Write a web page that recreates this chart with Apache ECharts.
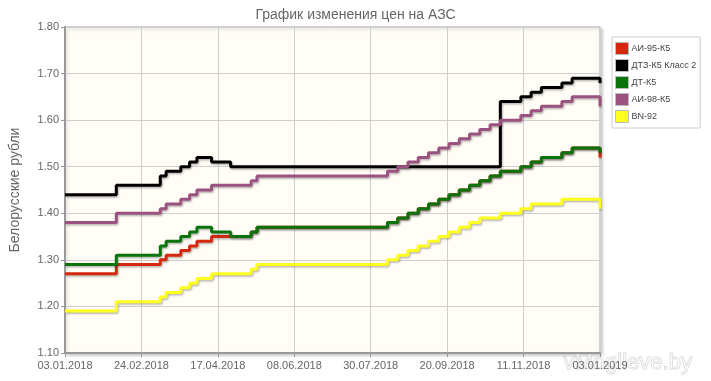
<!DOCTYPE html>
<html>
<head>
<meta charset="utf-8">
<script src="https://cdn.jsdelivr.net/npm/echarts@6/dist/echarts.min.js"></script>
<style>
html,body{margin:0;padding:0;background:#fff;}
#chart{width:711px;height:381px;}
</style>
</head>
<body>
<div id="chart"></div>
<script>
// ---- Data (change dates and prices, BYN) ----
const startDate = '2018-01-03';
const endDate = '2019-01-03';
const tickLabels = ['03.01.2018','24.02.2018','17.04.2018','08.06.2018','30.07.2018','20.09.2018','11.11.2018','03.01.2019'];
const yTicks = [1.10, 1.80, 0.10]; // min, max, step

const seriesNames = ['АИ-95-К5', 'ДТЗ-К5 Класс 2', 'ДТ-К5', 'АИ-98-К5', 'BN-92'];

const weekly = ['2018-08-11','2018-08-18','2018-08-25','2018-09-01','2018-09-08','2018-09-15','2018-09-22','2018-09-29','2018-10-06','2018-10-13','2018-10-20','2018-10-27','2018-11-10','2018-11-17','2018-11-24','2018-12-08','2018-12-15'];

const ai95Dates = ['2018-01-03','2018-02-07','2018-03-09','2018-03-13','2018-03-23','2018-03-29','2018-04-03','2018-04-13','2018-05-10','2018-05-14'].concat(weekly, ['2019-01-03']);
const ai95Values = [1.27,1.29,1.30,1.31,1.32,1.33,1.34,1.35,1.36,1.37,
  1.38,1.39,1.40,1.41,1.42,1.43,1.44,1.45,1.46,1.47,1.48,1.49,1.50,1.51,1.52,1.53,1.54,
  1.52];

const dtzDates = ['2018-01-03','2018-02-07','2018-03-09','2018-03-13','2018-03-23','2018-03-29','2018-04-03','2018-04-13','2018-04-26','2018-10-27','2018-11-10','2018-11-17','2018-11-24','2018-12-08','2018-12-15','2019-01-03'];
const dtzValues = [1.44,1.46,1.48,1.49,1.50,1.51,1.52,1.51,1.50,1.64,1.65,1.66,1.67,1.68,1.69,1.68];

const dtDates = ['2018-01-03','2018-02-07','2018-03-09','2018-03-13','2018-03-23','2018-03-29','2018-04-03','2018-04-13','2018-04-26','2018-05-10','2018-05-14'].concat(weekly, ['2019-01-03']);
const dtValues = [1.29,1.31,1.33,1.34,1.35,1.36,1.37,1.36,1.35,1.36,1.37,
  1.38,1.39,1.40,1.41,1.42,1.43,1.44,1.45,1.46,1.47,1.48,1.49,1.50,1.51,1.52,1.53,1.54,
  1.53];

const ai98Dates = ['2018-01-03','2018-02-07','2018-03-09','2018-03-13','2018-03-23','2018-03-29','2018-04-03','2018-04-13','2018-05-10','2018-05-14'].concat(weekly, ['2019-01-03']);
const ai98Values = [1.38,1.40,1.41,1.42,1.43,1.44,1.45,1.46,1.47,1.48,
  1.49,1.50,1.51,1.52,1.53,1.54,1.55,1.56,1.57,1.58,1.59,1.60,1.61,1.62,1.63,1.64,1.65,
  1.63];

const bn92Dates = ['2018-01-03','2018-02-07','2018-03-09','2018-03-13','2018-03-23','2018-03-29','2018-04-03','2018-04-13','2018-05-10','2018-05-14',
  '2018-08-11','2018-08-18','2018-08-25','2018-09-01','2018-09-08','2018-09-15','2018-09-22','2018-09-29','2018-10-06','2018-10-13','2018-10-27','2018-11-10','2018-11-17','2018-12-08','2019-01-03'];
const bn92Values = [1.19,1.21,1.22,1.23,1.24,1.25,1.26,1.27,1.28,1.29,
  1.30,1.31,1.32,1.33,1.34,1.35,1.36,1.37,1.38,1.39,1.40,1.41,1.42,1.43,
  1.41];

const colors = ['#d6280f', '#000000', '#0b730b', '#9c5281', '#ffff1e'];

// ---- Build ----
const DAY = 86400000;
const t0 = Date.parse(startDate);
const span = (Date.parse(endDate) - t0) / DAY;
const xStep = span / (tickLabels.length - 1);
function toPairs(dates, values) {
  return dates.map((d, i) => [(Date.parse(d) - t0) / DAY, values[i]]);
}
const allData = [
  toPairs(ai95Dates, ai95Values),
  toPairs(dtzDates, dtzValues),
  toPairs(dtDates, dtValues),
  toPairs(ai98Dates, ai98Values),
  toPairs(bn92Dates, bn92Values)
];

const chart = echarts.init(document.getElementById('chart'), null, {renderer: 'canvas'});
const labelFont = 'Liberation Sans, Arial, sans-serif';
chart.setOption({
  animation: false,
  backgroundColor: '#ffffff',
  title: {
    text: 'График изменения цен на АЗС',
    left: 'center',
    top: 3,
    textStyle: {fontSize: 14, fontWeight: 'normal', color: '#666', fontFamily: labelFont}
  },
  legend: {
    orient: 'vertical',
    left: 612,
    top: 37,
    padding: [5, 4, 5, 3],
    itemGap: 4,
    itemWidth: 13,
    itemHeight: 12,
    icon: 'rect',
    backgroundColor: '#ffffff',
    borderColor: '#cccccc',
    borderWidth: 1,
    itemStyle: {borderColor: '#bbbbbb', borderWidth: 1},
    textStyle: {fontSize: 9, color: '#444', fontFamily: labelFont, padding: [0, 0, 0, -2]},
    data: seriesNames
  },
  graphic: [{
    type: 'text',
    left: 563,
    top: 351,
    silent: true,
    style: {
      text: 'vMogileve.by',
      fontSize: 22,
      fontFamily: labelFont,
      fill: 'rgba(255,255,255,0.6)',
      stroke: 'rgba(150,150,150,0.45)',
      lineWidth: 1
    }
  }],
  grid: {
    left: 64, right: 111, top: 27, bottom: 28,
    show: true,
    backgroundColor: '#fffdf5',
    borderColor: '#a8a8a8',
    borderWidth: 1,
    shadowColor: 'rgba(0,0,0,0.22)',
    shadowBlur: 3,
    shadowOffsetX: 2,
    shadowOffsetY: 2
  },
  xAxis: {
    type: 'value',
    min: 0,
    max: span,
    interval: xStep,
    axisLine: {show: true, onZero: false, lineStyle: {color: '#999', width: 2}},
    axisTick: {show: true, length: 4, lineStyle: {color: '#999'}},
    splitLine: {show: true, lineStyle: {color: '#cfcfcf', width: 1}},
    axisLabel: {
      color: '#666', fontSize: 11, fontFamily: labelFont, margin: 7,
      showMinLabel: true, showMaxLabel: true,
      formatter: v => tickLabels[Math.round(v / xStep)] || ''
    }
  },
  yAxis: {
    type: 'value',
    min: yTicks[0],
    max: yTicks[1],
    interval: yTicks[2],
    name: 'Белорусские рубли',
    nameLocation: 'middle',
    nameGap: 43,
    nameTextStyle: {fontSize: 14, color: '#666', fontFamily: labelFont},
    axisLine: {show: true, lineStyle: {color: '#999', width: 2}},
    axisTick: {show: true, length: 4, lineStyle: {color: '#999'}},
    splitLine: {show: true, lineStyle: {color: '#cfcfcf', width: 1}},
    axisLabel: {
      color: '#666', fontSize: 11, fontFamily: labelFont, margin: 6,
      formatter: v => v.toFixed(2)
    }
  },
  series: seriesNames.map((name, i) => ({
    name: name,
    type: 'line',
    step: 'end',
    data: allData[i],
    showSymbol: false,
    symbol: 'none',
    color: colors[i],
    lineStyle: {
      width: 3,
      color: colors[i],
      shadowColor: 'rgba(0,0,0,0.28)',
      shadowBlur: 2,
      shadowOffsetX: 1,
      shadowOffsetY: 1.5
    },
    z: 2 + i
  }))
});
</script>
</body>
</html>
